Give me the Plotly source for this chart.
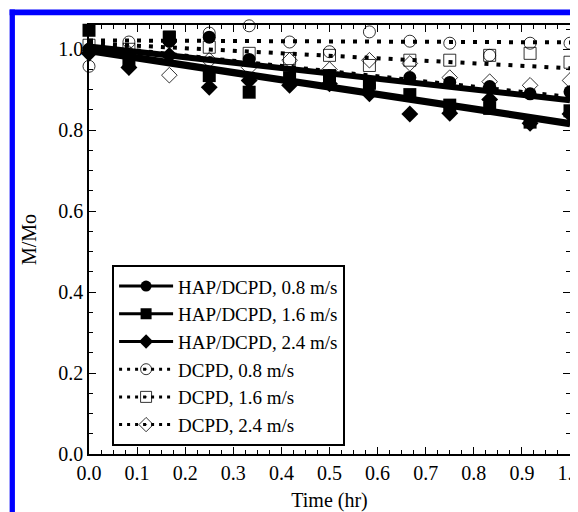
import plotly.graph_objects as go

# ---- data ----
time_hr = [0.0, 0.083, 0.167, 0.25, 0.333, 0.417, 0.5, 0.583, 0.667, 0.75, 0.833, 0.917, 1.0]

hap_08 = [1.00, 0.985, 1.02, 1.03, 0.975, 0.915, 0.925, 0.91, 0.93, 0.918, 0.908, 0.89, 0.895]
hap_16 = [1.047, 0.968, 1.03, 0.935, 0.894, 0.93, 0.935, 0.916, 0.888, 0.862, 0.854, 0.82, 0.848]
hap_24 = [0.99, 0.955, 0.985, 0.906, 0.923, 0.911, 0.915, 0.89, 0.84, 0.842, 0.876, 0.817, 0.84]
dcpd_08 = [0.958, 1.018, 1.02, 1.04, 1.058, 1.018, 0.994, 1.043, 1.02, 1.015, 0.985, 1.015, 1.015]
dcpd_16 = [1.01, 1.0, 1.03, 1.005, 0.99, 0.977, 0.985, 0.96, 0.973, 0.973, 0.985, 0.99, 0.968]
dcpd_24 = [1.0, 0.99, 0.936, 0.973, 0.955, 0.973, 0.95, 0.973, 0.965, 0.93, 0.92, 0.911, 0.923]

series_names = ["HAP/DCPD, 0.8 m/s", "HAP/DCPD, 1.6 m/s", "HAP/DCPD, 2.4 m/s",
                "DCPD, 0.8 m/s", "DCPD, 1.6 m/s", "DCPD, 2.4 m/s"]
series_values = [hap_08, hap_16, hap_24, dcpd_08, dcpd_16, dcpd_24]

# linear fit lines (value at t=0, value at t=1)
fit_start = [1.007, 0.998, 0.995, 1.022, 1.015, 1.01]
fit_end = [0.874, 0.818, 0.815, 1.017, 0.953, 0.882]
fit_t = [0.0, 1.0]

x_ticks = [0.0, 0.1, 0.2, 0.3, 0.4, 0.5, 0.6, 0.7, 0.8, 0.9, 1.0]
y_ticks = [0.0, 0.2, 0.4, 0.6, 0.8, 1.0]

# ---- styles ----
symbols = ["circle", "square", "diamond", "circle-open", "square-open", "diamond-open"]
legend_symbols = ["circle", "square", "diamond", "circle-open-dot", "square-open-dot", "diamond-open-dot"]
solid = [True, True, True, False, False, False]
FONT = "Liberation Serif"

fig = go.Figure()

# fit lines
for name, a, b, s in zip(series_names, fit_start, fit_end, solid):
    fig.add_trace(go.Scatter(
        x=fit_t, y=[a, b], mode="lines", showlegend=False, hoverinfo="skip",
        line=dict(color="black", width=6 if s else 4, dash="solid" if s else "4px,8px"),
    ))

# markers
for name, vals, sym, s in zip(series_names, series_values, symbols, solid):
    fig.add_trace(go.Scatter(
        x=time_hr, y=vals, mode="markers", name=name, showlegend=False, cliponaxis=False,
        marker=dict(symbol=sym, size=13 if s else 12, color="black",
                    line=dict(color="black", width=0 if s else 0.8)),
    ))

# legend entries
for name, sym, s in zip(series_names, legend_symbols, solid):
    fig.add_trace(go.Scatter(
        x=[None], y=[None], mode="lines+markers", name=name,
        line=dict(color="black", width=3, dash="solid" if s else "3px,5px"),
        marker=dict(symbol=sym, size=11, color="black",
                    line=dict(color="black", width=0 if s else 0.8)),
    ))

axis_common = dict(
    showline=True, linecolor="black", linewidth=1.5, mirror="allticks",
    ticks="inside", ticklen=7, tickwidth=1, tickcolor="black",
    showgrid=False, zeroline=False, ticklabeloverflow="allow", automargin=False,
    tickfont=dict(family=FONT, size=20, color="black"),
)

fig.update_xaxes(
    range=[0, 1.0], tickvals=x_ticks, ticktext=[f"{v:.1f}" for v in x_ticks],
    minor=dict(dtick=0.025, ticks="inside", ticklen=4, tickcolor="black"),
    title=dict(text="Time (hr)", font=dict(family=FONT, size=20, color="black"), standoff=10),
    **axis_common,
)
fig.update_yaxes(
    range=[0, 1.06], tickvals=y_ticks, ticktext=[f"{v:.1f}" for v in y_ticks],
    minor=dict(dtick=0.05, ticks="inside", ticklen=4, tickcolor="black"),
    title=dict(text="M/Mo", font=dict(family=FONT, size=20, color="black"), standoff=16),
    **axis_common,
)

fig.update_layout(
    width=570, height=504,
    margin=dict(l=81, r=8, t=17, b=58, autoexpand=False),
    paper_bgcolor="white", plot_bgcolor="white",
    font=dict(family=FONT, color="black"),
    legend=dict(
        x=0.048, y=0.44, xanchor="left", yanchor="top",
        bgcolor="white", bordercolor="black", borderwidth=2,
        font=dict(family=FONT, size=19, color="black"),
        itemwidth=54, tracegroupgap=0,
    ),
    shapes=[
        dict(type="rect", xref="paper", yref="paper", x0=-0.165, x1=-0.154, y0=-0.2, y1=1.036,
             fillcolor="#0000ff", line=dict(width=0), layer="above"),
        dict(type="rect", xref="paper", yref="paper", x0=-0.165, x1=1.05, y0=1.023, y1=1.036,
             fillcolor="#0000ff", line=dict(width=0), layer="above"),
    ],
)

fig.write_html("out.html")
